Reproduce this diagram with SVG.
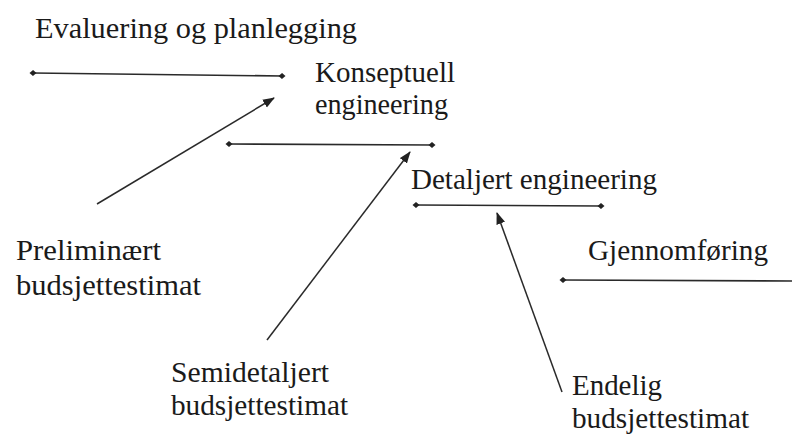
<svg xmlns="http://www.w3.org/2000/svg" width="792" height="436" viewBox="0 0 792 436">
  <style>
    .lbl { font-family: "Liberation Serif", "Times New Roman", serif; font-size: 30px; fill: #1a1a1a; }
    .span { stroke: #2a2a2a; stroke-width: 1.6; fill: none; marker-start: url(#dot); marker-end: url(#dot); }
    .span-open { stroke: #2a2a2a; stroke-width: 1.6; fill: none; marker-start: url(#dot); }
    .arrow { stroke: #2a2a2a; stroke-width: 1.5; fill: none; marker-end: url(#head); }
  </style>
  <defs>
    <marker id="dot" viewBox="-4 -4 8 8" markerWidth="8" markerHeight="8" markerUnits="userSpaceOnUse" orient="auto">
      <path d="M-3.5 0 L0 -3 L3.5 0 L0 3 Z" fill="#222"/>
    </marker>
    <marker id="head" viewBox="0 -5 12 10" refX="11" refY="0" markerWidth="12" markerHeight="10" markerUnits="userSpaceOnUse" orient="auto">
      <path d="M0 -4.5 L12 0 L0 4.5 Z" fill="#222"/>
    </marker>
  </defs>

  <rect width="792" height="436" fill="#ffffff"/>

  <!-- phase spans and estimate arrows -->
  <g id="connectors">
    <line class="span" x1="33" y1="73" x2="282" y2="76"/>
    <line class="span" x1="229" y1="144" x2="432" y2="145"/>
    <line class="span" x1="416" y1="205" x2="601" y2="206"/>
    <line class="span-open" x1="563" y1="280" x2="792" y2="281"/>
    <line class="arrow" x1="97" y1="204" x2="274" y2="98"/>
    <line class="arrow" x1="267" y1="340" x2="410" y2="152"/>
    <line class="arrow" x1="562" y1="392" x2="497" y2="213"/>
  </g>

  <!-- phases -->
  <g id="phase-evaluering">
    <text class="lbl" x="35" y="38" textLength="322" lengthAdjust="spacingAndGlyphs">Evaluering og planlegging</text>
  </g>
  <g id="phase-konseptuell">
    <text class="lbl" x="315" y="82" textLength="140" lengthAdjust="spacingAndGlyphs">Konseptuell</text>
    <text class="lbl" x="315" y="114" textLength="133" lengthAdjust="spacingAndGlyphs">engineering</text>
  </g>
  <g id="phase-detaljert">
    <text class="lbl" x="411" y="189" textLength="246" lengthAdjust="spacingAndGlyphs">Detaljert engineering</text>
  </g>
  <g id="phase-gjennomforing">
    <text class="lbl" x="588" y="260" textLength="180" lengthAdjust="spacingAndGlyphs">Gjennomføring</text>
  </g>

  <!-- estimates -->
  <g id="estimate-preliminaert">
    <text class="lbl" x="16" y="260" textLength="145" lengthAdjust="spacingAndGlyphs">Preliminært</text>
    <text class="lbl" x="16" y="295" textLength="185" lengthAdjust="spacingAndGlyphs">budsjettestimat</text>
  </g>
  <g id="estimate-semidetaljert">
    <text class="lbl" x="171" y="382" textLength="158" lengthAdjust="spacingAndGlyphs">Semidetaljert</text>
    <text class="lbl" x="171" y="415" textLength="177" lengthAdjust="spacingAndGlyphs">budsjettestimat</text>
  </g>
  <g id="estimate-endelig">
    <text class="lbl" x="572" y="395" textLength="90" lengthAdjust="spacingAndGlyphs">Endelig</text>
    <text class="lbl" x="572" y="428" textLength="177" lengthAdjust="spacingAndGlyphs">budsjettestimat</text>
  </g>
</svg>
